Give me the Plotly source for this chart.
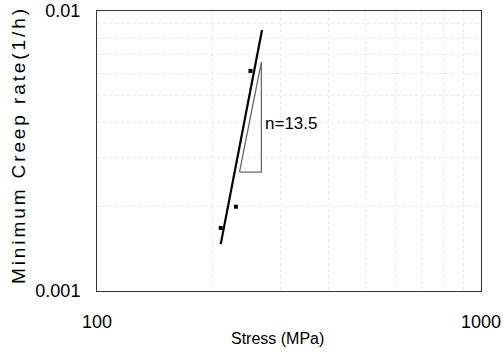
import math
import plotly.graph_objects as go

# Measured minimum creep rates
stress = [210, 230, 251]            # MPa
creep_rate = [0.00168, 0.00200, 0.00611]  # 1/h

# Power-law fit line endpoints
fit_stress = [210, 269]
fit_rate = [0.00147, 0.00855]

# Slope triangle
tri_stress = [235, 268, 268, 235]
tri_rate = [0.00266, 0.00266, 0.00658, 0.00266]

slope_label = "n=13.5"
label_stress = 270
label_rate = 0.00395

x_ticks = [100, 1000]
x_ticktext = ["100", "1000"]
y_ticks = [0.001, 0.01]
y_ticktext = ["0.001", "0.01"]

# faint dotted grid positions
x_grid = [200, 300, 400, 500, 600, 700, 800, 900]
y_grid = [0.002, 0.003, 0.004, 0.005, 0.006, 0.007, 0.008, 0.009]

font = "Liberation Sans, Arial, sans-serif"

W, H = 504, 352
L, R, T, B = 97, 23, 11, 61
pw, ph = W - L - R, H - T - B


def px_to_paper(px, py):
    return (px - L) / pw, (H - B - py) / ph


fig = go.Figure()

fig.add_trace(go.Scatter(
    x=tri_stress, y=tri_rate, mode="lines",
    line=dict(color="#6a6a6a", width=1.3),
    hoverinfo="skip", showlegend=False,
))
fig.add_trace(go.Scatter(
    x=fit_stress, y=fit_rate, mode="lines",
    line=dict(color="black", width=2.2),
    showlegend=False,
))
fig.add_trace(go.Scatter(
    x=stress, y=creep_rate, mode="markers",
    marker=dict(symbol="square", size=4, color="black"),
    showlegend=False,
))

# slope label (log axes take log10 coordinates for annotations)
fig.add_annotation(
    x=math.log10(label_stress), y=math.log10(label_rate), xref="x", yref="y",
    text=slope_label, showarrow=False, xanchor="left", yanchor="middle",
    font=dict(family=font, size=17, color="black"),
)

# x-axis title
ax, ay = px_to_paper(277, 338)
fig.add_annotation(
    x=ax, y=ay, xref="paper", yref="paper", text="Stress (MPa)",
    showarrow=False, font=dict(family=font, size=16, color="black"),
    xanchor="center", yanchor="middle",
)
# y-axis title
tx, ty = px_to_paper(18, 145)
fig.add_annotation(
    x=tx, y=ty, xref="paper", yref="paper",
    text='<span style="letter-spacing:2.9px">Minimum Creep rate(1/h)</span>',
    showarrow=False, textangle=-90,
    font=dict(family=font, size=19, color="black"),
    xanchor="center", yanchor="middle",
)

axis_common = dict(
    showline=True, linecolor="#333333", linewidth=1, mirror=True,
    ticks="", showgrid=False, zeroline=False, automargin=False,
    ticklabeloverflow="allow",
    tickfont=dict(family=font, size=18, color="black"),
)

fig.update_xaxes(
    type="log", range=[1.99999, 3.00001], tickvals=x_ticks, ticktext=x_ticktext,
    ticklabelstandoff=14,
    minor=dict(tickvals=x_grid, showgrid=True, gridcolor="#e8e8e8",
               griddash="dot", gridwidth=1, ticks=""),
    **axis_common,
)
fig.update_yaxes(
    type="log", range=[-3.00001, -1.99999], tickvals=y_ticks, ticktext=y_ticktext,
    ticklabelstandoff=12,
    minor=dict(tickvals=y_grid, showgrid=True, gridcolor="#e8e8e8",
               griddash="dot", gridwidth=1, ticks=""),
    **axis_common,
)

fig.update_layout(
    width=W, height=H,
    margin=dict(l=L, r=R, t=T, b=B),
    paper_bgcolor="white", plot_bgcolor="white",
    showlegend=False,
)

fig.write_html("out.html")
